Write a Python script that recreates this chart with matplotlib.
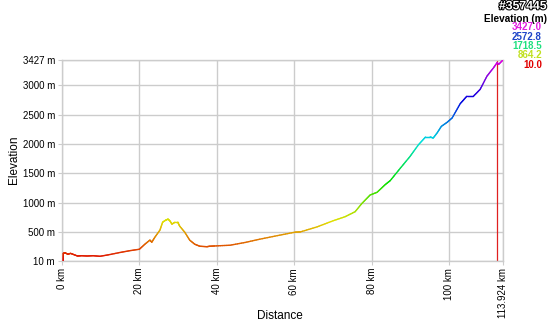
import numpy as np
import matplotlib
matplotlib.use("Agg")
import matplotlib.pyplot as plt
from matplotlib.collections import LineCollection
import matplotlib.patheffects as pe
import colorsys

plt.rcParams['font.family'] = ['Liberation Sans', 'DejaVu Sans']

# Elevation profile (km, m)
dist_km = [0.0, 0.3, 0.32, 0.8, 1.5, 2.2, 3.0, 4.0, 5.0, 6.5, 8.0, 9.8, 12.0, 15.0, 17.5,
           20.0, 21.4, 22.7, 23.2, 24.0, 25.3, 26.0, 26.8, 27.4, 27.9, 28.4, 29.2, 29.9,
           30.4, 31.7, 33.0, 34.3, 35.6, 37.4, 38.2, 39.5, 43.4, 47.3, 51.1, 56.3, 60.2,
           61.6, 65.9, 70.0, 73.1, 75.7, 77.5, 79.6, 81.4, 83.4, 84.8, 87.4, 89.9, 92.1,
           93.9, 95.1, 95.9, 96.9, 98.0, 99.5, 100.8, 102.9, 104.6, 106.3, 108.0, 109.8,
           111.5, 112.4, 112.8, 113.924]
elev_m = [10, 10, 140, 150, 125, 140, 120, 95, 100, 95, 100, 90, 115, 155, 185,
          210, 295, 365, 330, 415, 535, 670, 705, 722, 690, 637, 670, 670,
          603, 500, 364, 295, 261, 253, 261, 266, 278, 325, 381, 450, 500,
          505, 590, 693, 762, 847, 990, 1132, 1178, 1303, 1377, 1588, 1787, 1987,
          2118, 2118, 2101, 2187, 2299, 2368, 2443, 2687, 2812, 2812, 2926, 3154,
          3297, 3382, 3353, 3427]

y_ticks = [10, 500, 1000, 1500, 2000, 2500, 3000, 3427]
y_labels = ["10 m", "500 m", "1000 m", "1500 m", "2000 m", "2500 m", "3000 m", "3427 m"]
x_ticks = [0, 20, 40, 60, 80, 100, 113.924]
x_labels = ["0 km", "20 km", "40 km", "60 km", "80 km", "100 km", "113.924 km"]
legend_vals = [3427.0, 2572.8, 1718.5, 864.2, 10.0]
marker_km = 112.3

emin, emax = 10.0, 3427.0

def elev_color(e):
    f = (e - emin) / (emax - emin)
    f = min(max(f, 0), 1)
    return colorsys.hsv_to_rgb(300.0 / 360.0 * f, 1.0, 0.88)

fig = plt.figure(figsize=(5.5, 3.22), dpi=100)
ax = fig.add_axes([62/550, 1 - 261/322, (503-62)/550, (261-60)/322])

ax.set_xlim(0, 113.924)
ax.set_ylim(emin, emax)

grid_c = '#cccccc'
for t in y_ticks:
    ax.axhline(t, color=grid_c, lw=1, zorder=1)
for t in x_ticks:
    ax.axvline(t, color=grid_c, lw=1, zorder=1)

for s in ax.spines.values():
    s.set_color(grid_c)
    s.set_linewidth(1)

ax.set_yticks(y_ticks)
ax.set_yticklabels(y_labels, fontsize=7)
ax.set_xticks(x_ticks)
ax.set_xticklabels(x_labels, fontsize=7, rotation=90)
ax.tick_params(axis='both', length=3, color=grid_c, pad=2)

# red marker line
ax.axvline(marker_km, color='#e02020', lw=0.9, zorder=2)

# colored profile
x = np.array(dist_km)
y = np.array(elev_m, dtype=float)
xs, ys = [], []
for i in range(len(x) - 1):
    n = 8
    for k in range(n):
        t = k / n
        xs.append(x[i] + (x[i+1] - x[i]) * t)
        ys.append(y[i] + (y[i+1] - y[i]) * t)
xs.append(x[-1]); ys.append(y[-1])
xs = np.array(xs); ys = np.array(ys)
pts = np.column_stack([xs, ys]).reshape(-1, 1, 2)
segs = np.concatenate([pts[:-1], pts[1:]], axis=1)
cols = [elev_color((ys[i] + ys[i+1]) / 2) for i in range(len(ys) - 1)]
lc = LineCollection(segs, colors=cols, linewidths=1.0, zorder=3, capstyle='round')
ax.add_collection(lc)

fig.text(14/550, 1 - 160/322, "Elevation", rotation=90, ha='center', va='center', fontsize=8.5)
fig.text(280/550, 1 - 316/322, "Distance", ha='center', va='center', fontsize=8.5)

# header top-right
fig.text(547/550, 1 - 0.3/322, "#357445", ha='right', va='top', fontsize=8.8, fontweight='bold',
         color='white', path_effects=[pe.withStroke(linewidth=1.5, foreground='black')])
fig.text(547/550, 1 - 18.5/322, "Elevation (m)", ha='right', va='center', fontsize=7.2, fontweight='bold')
leg_cols = ['#e020e0', '#1f45c8', '#20e080', '#c0e020', '#e00000']
leg_y = [27, 36.5, 46, 55.5, 65]
for v, c, yy in zip(legend_vals, leg_cols, leg_y):
    fig.text(542/550, 1 - yy/322, f"{v:.1f}", ha='right', va='center', fontsize=7,
             fontweight='bold', color=c)

fig.savefig("out.png", dpi=100)
